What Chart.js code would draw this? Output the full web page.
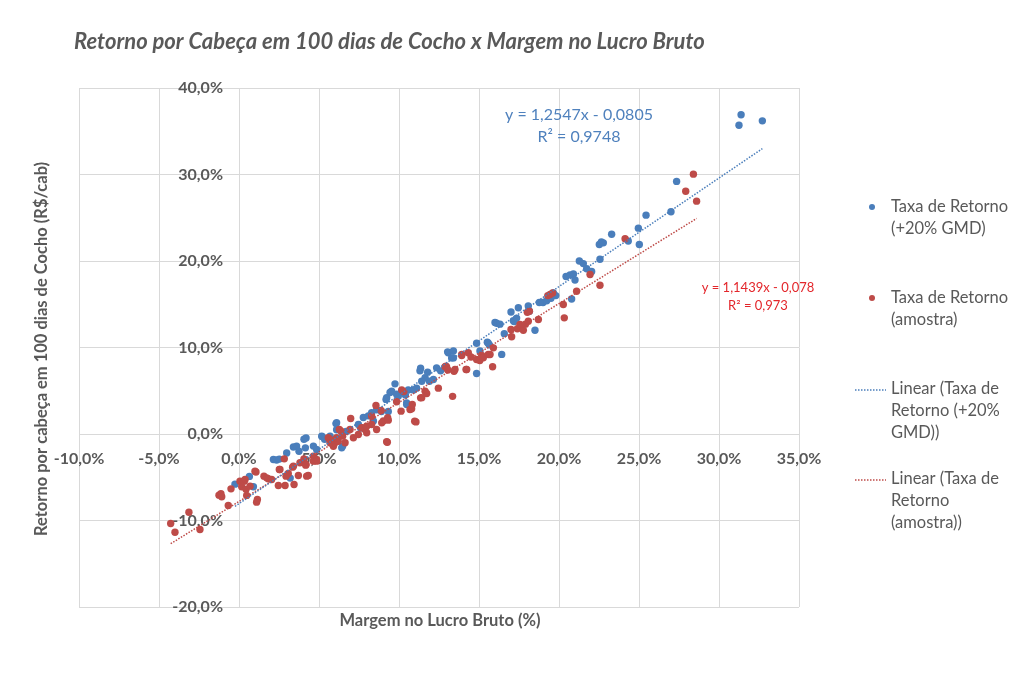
<!DOCTYPE html>
<html>
<head>
<meta charset="utf-8">
<script src="https://cdn.jsdelivr.net/npm/chart.js@4"></script>
<style>
  body { margin: 0; background: #fff; }
</style>
</head>
<body>
<canvas id="grafico" width="1024" height="684"></canvas>
<script>
// Taxa de Retorno (+20% GMD): [margem %, retorno %]
const retornoGMD = [
  [-0.25,-5.8],[0.65,-4.9],[0.9,-6.1],
  [2.15,-2.95],[2.35,-3.0],[2.52,-2.9],[2.98,-2.2],[3.2,-5.1],[3.4,-1.5],[3.6,-1.4],[3.75,-2.0],
  [4.06,-0.6],[4.15,-1.6],[4.19,-0.45],[4.65,-1.4],[4.85,-1.8],[5.17,-0.25],[5.2,-0.3],[5.35,-0.6],[5.69,-0.25],
  [6.06,1.2],[6.1,0.5],[6.1,1.3],[6.42,-1.6],[6.48,-1.4],[6.7,0.3],
  [7.46,1.1],[7.6,0.7],[7.77,1.9],[8.08,2.1],[8.29,2.45],[8.4,1.5],[8.6,2.8],[8.9,2.6],
  [9.19,4.0],[9.23,4.2],[9.33,2.6],[9.44,4.8],[9.54,4.95],[9.75,5.8],[9.85,4.6],[9.96,4.4],[10.17,4.95],
  [10.4,4.5],[10.48,3.6],[10.48,3.4],[10.58,5.1],[10.9,5.1],[11.1,5.3],
  [11.31,7.3],[11.35,7.6],[11.42,6.1],[11.63,6.5],[11.79,7.15],[11.9,6.1],[12.15,6.3],[12.35,7.65],[12.6,7.3],[12.88,7.65],
  [13.04,9.5],[13.08,9.4],[13.29,8.8],[13.4,9.6],[13.4,8.8],[14.85,7.0],[14.85,10.5],[15.06,9.6],[15.52,10.6],[15.58,10.5],[15.65,10.3],
  [16.0,12.9],[16.1,12.8],[16.31,12.7],[16.42,9.2],[16.58,11.6],[17.0,14.1],[17.15,13.1],[17.2,13.0],[17.35,13.4],[17.46,14.6],
  [18.08,14.8],[18.15,14.2],[18.5,12.0],[18.77,15.2],[19.0,15.2],[19.23,15.4],[19.5,15.7],[19.65,16.3],[19.8,16.0],
  [20.44,18.2],[20.69,18.4],[20.79,15.6],[20.9,18.5],[21.0,17.8],[21.27,20.0],[21.52,19.7],[21.73,19.1],[22.04,18.8],
  [22.56,20.2],[22.52,21.9],[22.65,22.2],[22.77,22.1],
  [23.29,23.1],[24.33,22.3],[24.96,23.8],[25.02,21.9],[25.44,25.3],[27.0,25.7],[27.35,29.2],[31.25,35.7],[31.38,36.9],[32.71,36.2]
];

// Taxa de Retorno (amostra)
const retornoAmostra = [
  [-4.27,-10.35],[-4.0,-11.35],[-3.13,-9.04],[-2.44,-11.04],[-1.25,-7.07],[-1.13,-6.9],[-1.08,-7.26],[-0.67,-8.27],[-0.5,-6.34],
  [0.06,-5.45],[0.17,-6.1],[0.33,-5.45],[0.38,-5.26],[0.44,-6.4],[0.48,-7.1],[0.69,-6.03],[1.0,-4.3],[1.06,-4.4],[1.1,-7.88],[1.15,-7.57],
  [1.56,-4.87],[1.73,-5.07],[1.83,-5.18],[2.04,-5.26],[2.46,-5.95],[2.52,-4.1],[2.56,-4.1],[2.83,-2.87],[2.88,-5.95],[2.94,-4.87],
  [3.08,-4.57],[3.35,-3.83],[3.4,-3.72],[3.44,-5.84],[3.71,-4.8],[3.81,-3.33],[4.06,-2.87],[4.17,-3.6],[4.19,-3.53],[4.23,-4.87],
  [4.33,-4.8],[4.65,-2.56],[4.65,-3.14],[4.85,-2.95],[4.85,-3.14],
  [5.58,-0.44],[5.69,-0.64],[5.69,-1.02],[5.9,-1.41],[6.0,-1.02],[6.1,-0.44],[6.2,-0.83],[6.27,0.52],[6.38,0.33],[6.48,-0.25],
  [6.63,-1.02],[6.94,0.52],[6.98,1.8],[7.15,-0.44],[7.46,-0.06],[7.67,0.72],[7.88,0.52],[7.98,0.14],[7.98,0.9],
  [8.29,1.1],[8.29,2.06],[8.56,3.3],[8.6,0.52],[8.88,2.72],[8.92,1.29],[9.02,1.5],[9.23,-0.9],[9.27,-0.95],[9.29,1.87],[9.33,1.6],
  [9.85,3.72],[10.13,2.64],[10.17,5.1],[10.3,4.9],[10.69,2.83],[10.79,2.91],[10.83,3.41],[10.98,1.48],[11.06,1.4],[11.35,4.18],
  [11.42,4.2],[11.63,4.95],[11.73,4.68],[12.46,5.3],
  [12.88,7.77],[12.94,7.84],[12.98,7.72],[13.05,7.4],[13.35,4.35],[13.44,7.26],[13.5,7.46],[13.92,9.07],[13.92,9.19],[14.19,7.46],
  [14.23,7.46],[14.33,9.39],[14.5,8.9],[14.85,8.61],[15.05,8.5],[15.17,9.07],[15.27,8.81],[15.58,9.19],[15.69,9.19],[15.85,7.77],[15.9,9.96],
  [17.0,12.08],[17.04,11.24],[17.4,12.16],[17.56,12.66],[17.77,12.0],[17.9,12.7],[18.02,14.08],[18.08,13.04],[18.15,14.2],[18.71,13.24],
  [19.3,16.0],[19.44,16.13],[19.6,16.3],[20.27,14.97],[20.33,13.43],[21.1,16.51],[21.94,18.44],[22.56,17.2],[24.13,22.57],
  [27.92,28.07],[28.4,30.04],[28.6,26.92]
];

// linhas de tendencia (coeficientes do grafico): [inclinacao, intercepto]
const tendenciaGMD = [1.2547, -0.0805];
const tendenciaAmostra = [1.1439, -0.078];
const equacaoGMD = ['y = 1,2547x - 0,0805', 'R² = 0,9748'];
const equacaoAmostra = ['y = 1,1439x - 0,078', 'R² = 0,973'];

const legendas = [
  ['Taxa de Retorno', '(+20% GMD)'],
  ['Taxa de Retorno', '(amostra)'],
  ['Linear (Taxa de', 'Retorno (+20%', 'GMD))'],
  ['Linear (Taxa de', 'Retorno', '(amostra))']
];

const eixoX = { min: -10, max: 35, passo: 5 };
const eixoY = { min: -20, max: 40, passo: 10 };

const AZUL = '#4a7ebb';
const VERMELHO = '#be4b48';
const CINZA = '#595959';
const FONTE = 'Lato, "Open Sans", sans-serif';

function pontos(lista) {
  return lista.map(p => ({ x: p[0], y: p[1] }));
}

function tendencia(lista, coef) {
  const xs = lista.map(p => p[0]);
  const x0 = Math.min(...xs), x1 = Math.max(...xs);
  return [x0, x1].map(x => ({ x: x, y: coef[0] * x + coef[1] * 100 }));
}

function fmt(v) {
  return v.toFixed(1).replace('.', ',') + '%';
}

const textos = {
  id: 'textos',
  afterDatasetsDraw(chart) {},
  beforeDatasetsDraw(chart) {
    // rotulos do eixo y, a esquerda da linha x = 0
    const c = chart.ctx;
    const sx = chart.scales.x, sy = chart.scales.y;
    const x0 = sx.getPixelForValue(0);
    c.save();
    c.fillStyle = CINZA;
    c.font = 'bold 16px ' + FONTE;
    c.textAlign = 'right';
    c.textBaseline = 'middle';
    sy.ticks.forEach(t => c.fillText(fmt(t.value), x0 - 16, sy.getPixelForValue(t.value)));
    c.restore();
  },
  afterDraw(chart) {
    const c = chart.ctx;
    c.save();
    c.fillStyle = CINZA;
    c.textBaseline = 'middle';

    // titulo
    c.font = 'italic bold 22px ' + FONTE;
    c.textAlign = 'left';
    c.fillText('Retorno por Cabeça em 100 dias de Cocho x Margem no Lucro Bruto', 74, 42);

    // titulos dos eixos
    c.font = 'bold 16.5px ' + FONTE;
    c.textAlign = 'center';
    c.fillText('Margem no Lucro Bruto (%)', 440, 621);
    c.save();
    c.translate(42, 349);
    c.rotate(-Math.PI / 2);
    c.fillText('Retorno por cabeça em 100 dias de Cocho (R$/cab)', 0, 0);
    c.restore();

    // equacoes
    c.font = '16px ' + FONTE;
    c.fillStyle = '#4f81bd';
    c.fillText(equacaoGMD[0], 579, 115);
    c.fillText(equacaoGMD[1], 579, 137);
    c.font = '13px ' + FONTE;
    c.fillStyle = '#e3262b';
    c.fillText(equacaoAmostra[0], 758, 288);
    c.fillText(equacaoAmostra[1], 758, 306);

    // legenda
    c.font = '16.5px ' + FONTE;
    c.textAlign = 'left';
    const topos = [207, 298, 389, 479];
    const cores = [AZUL, VERMELHO, AZUL, VERMELHO];
    legendas.forEach((linhas, i) => {
      const y = topos[i];
      if (i < 2) {
        c.fillStyle = cores[i];
        c.beginPath();
        c.arc(872, y, 3, 0, Math.PI * 2);
        c.fill();
      } else {
        c.strokeStyle = cores[i];
        c.lineWidth = 1.5;
        c.setLineDash([1.5, 1.5]);
        c.beginPath();
        c.moveTo(855, y + 1);
        c.lineTo(886, y + 1);
        c.stroke();
        c.setLineDash([]);
      }
      c.fillStyle = CINZA;
      linhas.forEach((t, k) => c.fillText(t, 891, y + k * 22));
    });
    c.restore();
  }
};

new Chart(document.getElementById('grafico'), {
  type: 'scatter',
  data: {
    datasets: [
      {
        label: 'Taxa de Retorno (+20% GMD)',
        data: pontos(retornoGMD),
        backgroundColor: AZUL,
        borderWidth: 0,
        pointRadius: 3.7,
        order: 2
      },
      {
        label: 'Taxa de Retorno (amostra)',
        data: pontos(retornoAmostra),
        backgroundColor: VERMELHO,
        borderWidth: 0,
        pointRadius: 3.7,
        order: 1
      },
      {
        type: 'line',
        label: 'Linear (Taxa de Retorno (+20% GMD))',
        data: tendencia(retornoGMD, tendenciaGMD),
        borderColor: AZUL,
        borderWidth: 1.5,
        borderDash: [1.5, 1.5],
        pointRadius: 0,
        fill: false,
        order: 0
      },
      {
        type: 'line',
        label: 'Linear (Taxa de Retorno (amostra))',
        data: tendencia(retornoAmostra, tendenciaAmostra),
        borderColor: VERMELHO,
        borderWidth: 1.5,
        borderDash: [1.5, 1.5],
        pointRadius: 0,
        fill: false,
        order: 0
      }
    ]
  },
  options: {
    responsive: false,
    animation: false,
    devicePixelRatio: 1,
    layout: { padding: { left: 79, right: 225, top: 88, bottom: 77 } },
    plugins: {
      legend: { display: false },
      title: { display: false },
      tooltip: { enabled: false }
    },
    scales: {
      x: {
        type: 'linear',
        position: { y: 0 },
        min: eixoX.min,
        max: eixoX.max,
        grid: { color: '#d9d9d9', drawTicks: false },
        border: { color: '#d9d9d9' },
        ticks: {
          stepSize: eixoX.passo,
          padding: 15,
          color: CINZA,
          font: { family: FONTE, size: 16, weight: 'bold' },
          callback: v => fmt(v)
        }
      },
      y: {
        type: 'linear',
        position: { x: 0 },
        min: eixoY.min,
        max: eixoY.max,
        grid: { color: '#d9d9d9', drawTicks: false },
        border: { color: '#d9d9d9' },
        ticks: {
          stepSize: eixoY.passo,
          display: false
        }
      }
    }
  },
  plugins: [textos]
});
</script>
</body>
</html>
